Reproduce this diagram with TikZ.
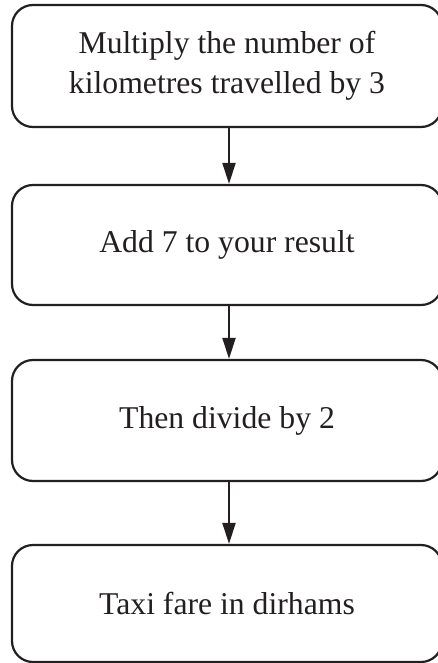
\documentclass[tikz,border=0pt]{standalone}
\usepackage{fontspec}
\setmainfont{Liberation Serif}
\usetikzlibrary{arrows.meta}
\definecolor{ink}{RGB}{35,31,32}
\begin{document}
\begin{tikzpicture}[x=1pt,y=-1pt,
  stepbox/.style={draw=ink, text=ink, line width=2.2pt, rounded corners=21pt,
    minimum width=430pt, align=center, inner sep=0pt,
    font=\fontsize{31.7}{40}\selectfont},
  arr/.style={line width=2pt, draw=ink, -{Triangle[length=21pt,width=13pt]}}]
\useasboundingbox (0,0) rectangle (438,663);
\node[stepbox, minimum height=122pt] (b1) at (227,66) {Multiply the number of\\kilometres travelled by 3};
\node[stepbox, minimum height=120pt] (b2) at (227,245) {Add 7 to your result};
\node[stepbox, minimum height=121pt] (b3) at (227,420.5) {Then divide by 2};
\node[stepbox, minimum height=117pt] (b4) at (227,603.5) {Taxi fare in dirhams};
\coordinate (ax) at (229,0);
\draw[arr] (b1.south -| ax) -- (b2.north -| ax);
\draw[arr] (b2.south -| ax) -- (b3.north -| ax);
\draw[arr] (b3.south -| ax) -- (b4.north -| ax);
\end{tikzpicture}
\end{document}
